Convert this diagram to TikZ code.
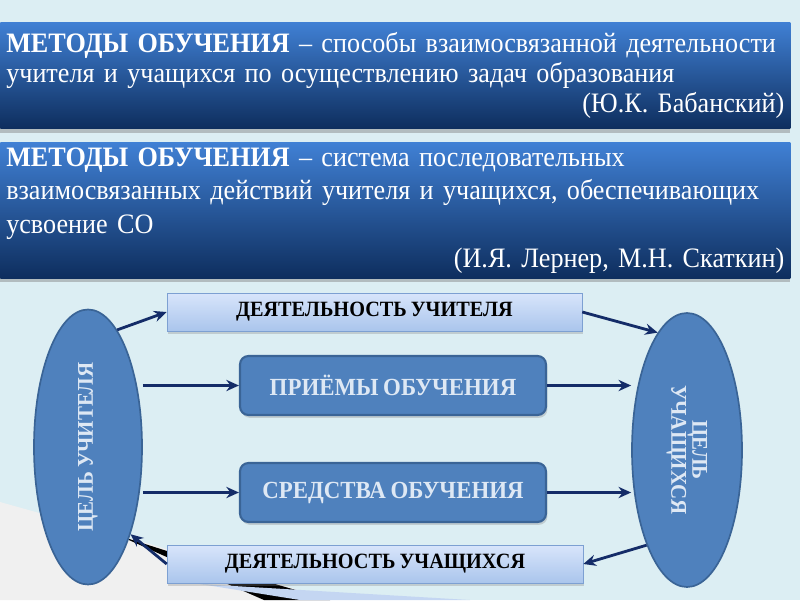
\documentclass[tikz,border=0pt]{standalone}
\usepackage{fontspec}
\setmainfont{Liberation Serif}[FakeStretch=0.93, WordSpace=0.8]
\usetikzlibrary{arrows.meta,shapes.geometric,shadows,positioning}
\definecolor{slidebg}{RGB}{220,238,243}
\definecolor{bannertop}{RGB}{64,128,212}
\definecolor{bannerbot}{RGB}{14,46,94}
\definecolor{paletop}{RGB}{216,229,251}
\definecolor{palebot}{RGB}{170,197,236}
\definecolor{paleline}{RGB}{125,160,210}
\definecolor{midblue}{RGB}{79,129,189}
\definecolor{midline}{RGB}{58,100,150}
\definecolor{arrowblue}{RGB}{20,44,104}
\definecolor{lighttext}{RGB}{222,232,244}

\begin{document}
\begin{tikzpicture}[
    banner/.style={rectangle, top color=bannertop, bottom color=bannerbot, draw=none,
      minimum width=19.75cm, text width=19.45cm, align=left, inner xsep=0.15cm,
      text=white, anchor=north west,
      drop shadow={shadow xshift=0pt, shadow yshift=-3pt, opacity=0.45}},
    palebox/.style={rectangle, top color=paletop, bottom color=palebot, draw=paleline,
      minimum width=10.4cm, minimum height=0.95cm,
      font=\fontsize{15.5}{18}\selectfont\bfseries,
      drop shadow={shadow xshift=1pt, shadow yshift=-2pt, opacity=0.3}},
    bluebox/.style={rectangle, rounded corners=6pt, fill=midblue, draw=midline, line width=1.5pt,
      minimum width=7.65cm, minimum height=1.475cm, text=lighttext,
      font=\fontsize{17.5}{20}\selectfont\bfseries,
      drop shadow={shadow xshift=1pt, shadow yshift=-2pt, opacity=0.3}},
    goal/.style={ellipse, fill=midblue, draw=midline, line width=1.2pt,
      minimum width=2.7cm, minimum height=6.875cm, inner sep=0pt, text=lighttext,
      font=\fontsize{16}{18}\selectfont\bfseries, align=center},
    link/.style={-{Stealth[length=9pt,width=8pt,inset=3pt]}, draw=arrowblue, line width=2pt}
  ]
  % slide background
  \useasboundingbox (0,0) rectangle (20,-15);
  \fill[slidebg] (0,0) rectangle (20,-15);
  \fill[gray!12] (0,-12.55) -- (3.75,-13.6) -- (8.25,-15) -- (0,-15) -- cycle;
  \fill[black] (3.0,-13.4) .. controls (5.5,-14.2) .. (8.25,-15) -- (6.6,-15)
    .. controls (5,-14.3) .. (3.0,-13.4) -- cycle;
  \fill[palebot!70] (5.0,-14.6) -- (11.75,-15) -- (7.5,-15) -- cycle;

  % definitions
  \node[banner, minimum height=2.65cm, font=\fontsize{20}{21.5}\selectfont] (defA) at (0,-0.55)
    {\textbf{МЕТОДЫ ОБУЧЕНИЯ} – способы взаимосвязанной деятельности\\
     учителя и учащихся по осуществлению задач образования\\
     \hspace*{\fill}(Ю.К. Бабанский)};
  \node[banner, minimum height=3.3cm, font=\fontsize{20}{24}\selectfont, below=0.35cm of defA.south west, anchor=north west] (defB)
    {\textbf{МЕТОДЫ ОБУЧЕНИЯ} – система последовательных\\
     взаимосвязанных действий учителя и учащихся, обеспечивающих\\
     усвоение СО\\
     \hspace*{\fill}(И.Я. Лернер, М.Н. Скаткин)};

  % scheme
  \node[goal] (teacher) at (2.2,-11.175) {\rotatebox{90}{ЦЕЛЬ УЧИТЕЛЯ}};
  \node[goal, minimum width=2.75cm, minimum height=6.85cm] (pupils) at (17.175,-11.25)
    {\rotatebox{-90}{\begin{tabular}{@{}c@{}}ЦЕЛЬ\\[-3pt]УЧАЩИХСЯ\end{tabular}}};
  \node[palebox, minimum width=10.375cm] (tact) at (9.3625,-7.8) {ДЕЯТЕЛЬНОСТЬ УЧИТЕЛЯ};
  \node[bluebox] (ways) at (9.825,-9.6375) {ПРИЁМЫ ОБУЧЕНИЯ};
  \node[bluebox] (means) at (9.825,-12.3125) {СРЕДСТВА ОБУЧЕНИЯ};
  \node[palebox] (pact) at (9.375,-14.1) {ДЕЯТЕЛЬНОСТЬ УЧАЩИХСЯ};

  \draw[link] (teacher.76) -- (tact.west);
  \draw[link] (ways.west -| teacher.east) -- (ways.west);
  \draw[link] (means.west -| teacher.east) -- (means.west);
  \draw[link] (pact.west) -- (teacher.-64);
  \draw[link] (tact.east) -- (pupils.104);
  \draw[link] (ways.east) -- (ways.east -| pupils.west);
  \draw[link] (means.east) -- (means.east -| pupils.west);
  \draw[link] (pupils.-113) -- (pact.east);
\end{tikzpicture}
\end{document}
